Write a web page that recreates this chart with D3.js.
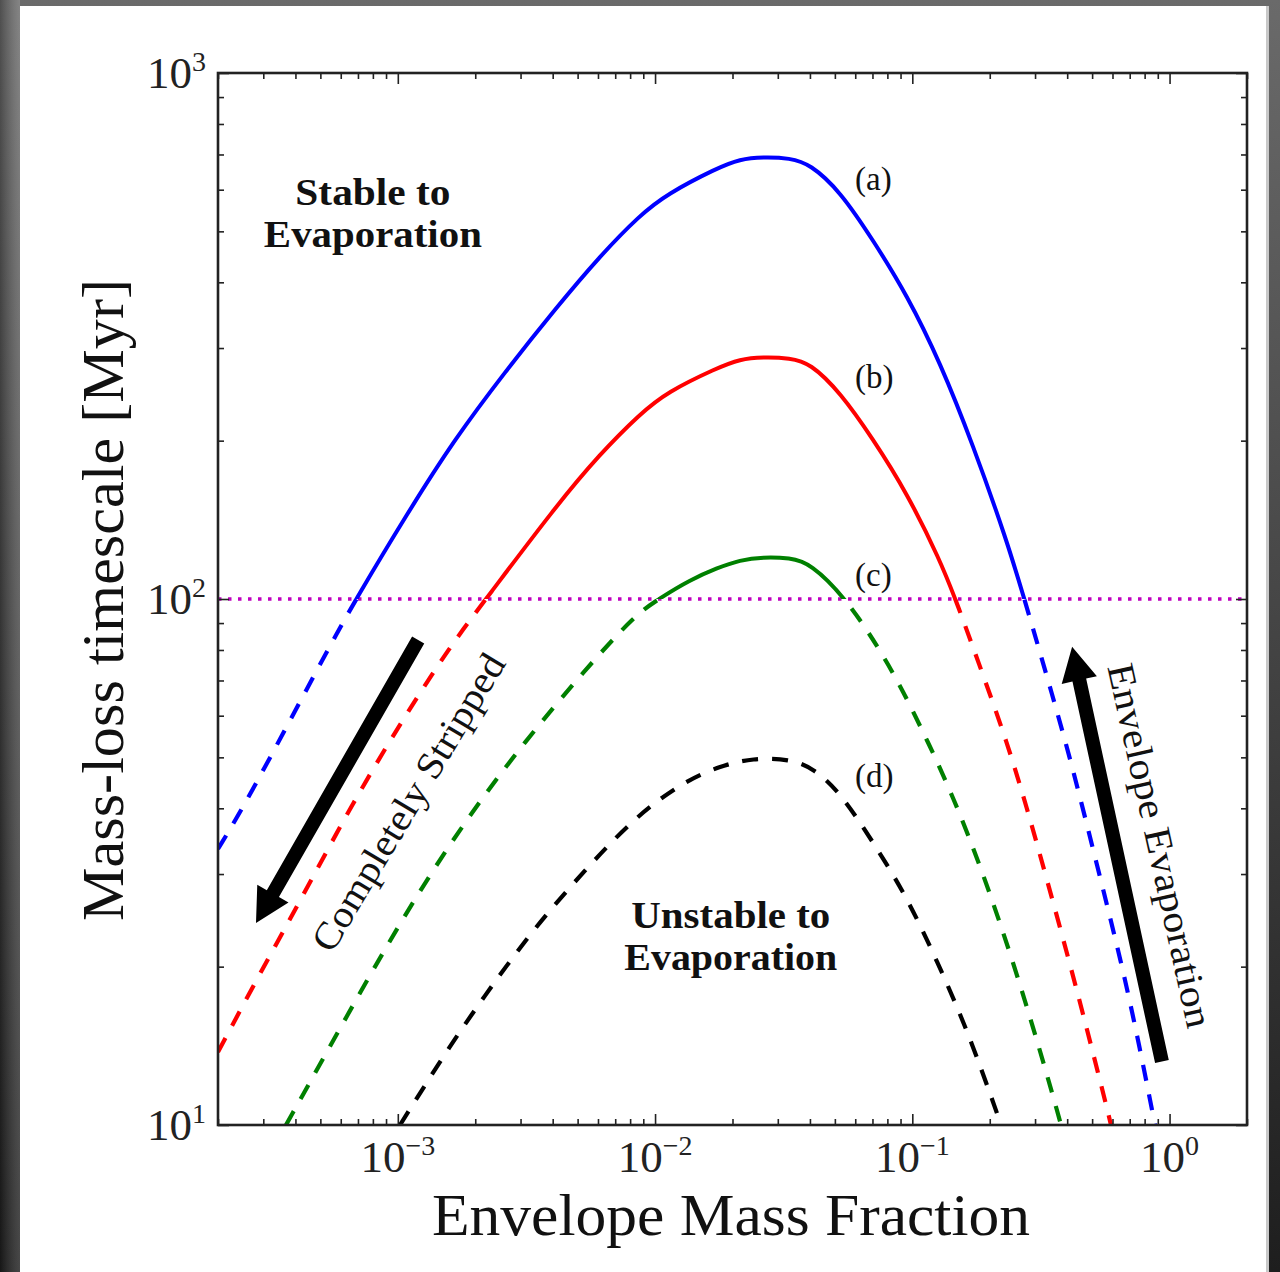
<!DOCTYPE html>
<html>
<head>
<meta charset="utf-8">
<script src="https://cdn.jsdelivr.net/npm/d3@7"></script>
<style>
    body { margin: 0; background: #fff; }
    svg { display: block; }
</style>
</head>
<body>
<svg id="chart"></svg>
<script>
// Envelope mass fraction vs mass-loss timescale [Myr]
const curveA = [
    [2.000e-4, 33.47], [2.457e-4, 39.54], [3.214e-4, 50.29], [4.202e-4, 64.27], [5.499e-4, 82.12],
    [6.877e-4, 100], [1.0857e-3, 145.1], [1.654e-3, 200.6], [2.610e-3, 270.2], [4.118e-3, 357.4],
    [6.108e-3, 448.9], [8.736e-3, 537.0], [1.1126e-2, 588.8], [1.740e-2, 659.6], [2.139e-2, 686.2],
    [2.628e-2, 692.3], [3.346e-2, 689.2], [4.002e-2, 671.4], [5.234e-2, 596.6], [7.033e-2, 481.4],
    [9.535e-2, 378.4], [0.1281, 282.2], [0.1722, 196.3], [0.2334, 128.9], [0.2742, 99.1],
    [0.3522, 65.12], [0.4213, 47.52], [0.5223, 31.21], [0.6592, 19.80], [0.7676, 13.95], [0.8778, 10]
];
const curveB = [
    [2.000e-4, 13.76], [2.861e-4, 19.11], [4.356e-4, 27.73], [6.577e-4, 40.41], [1.0290e-3, 58.37],
    [1.609e-3, 81.76], [2.203e-3, 100], [4.118e-3, 150.2], [6.108e-3, 188.7], [8.736e-3, 224.8],
    [1.1126e-2, 247.4], [1.740e-2, 274.9], [2.139e-2, 285.9], [2.628e-2, 288.4], [3.346e-2, 287.2],
    [4.002e-2, 281.0], [5.234e-2, 247.4], [7.033e-2, 201.5], [9.535e-2, 159.0], [0.1281, 118.6],
    [0.1492, 98.3], [0.1883, 71.71], [0.2334, 53.47], [0.2791, 40.06], [0.3339, 29.23],
    [0.4102, 20.24], [0.4906, 14.44], [0.5711, 10.77], [0.5919, 10]
];
const curveC = [
    [3.675e-4, 10], [5.353e-4, 13.89], [7.866e-4, 19.45], [1.1984e-3, 27.61], [1.874e-3, 38.51],
    [3.123e-3, 53.70], [5.340e-3, 73.28], [8.356e-3, 93.24], [1.0452e-2, 100.4], [1.3671e-2, 108.7],
    [1.740e-2, 114.5], [2.139e-2, 118.6], [2.628e-2, 120.2], [3.346e-2, 119.7], [4.002e-2, 117.1],
    [5.573e-2, 100], [8.188e-2, 74.89], [0.1100, 56.10], [0.1439, 42.22], [0.1883, 30.14],
    [0.2462, 20.50], [0.3134, 13.89], [0.3751, 10.18], [0.3784, 10]
];
const curveD = [
    [1.0198e-3, 10], [1.609e-3, 14.26], [2.303e-3, 18.30], [3.415e-3, 23.79], [5.340e-3, 30.53],
    [8.356e-3, 38.51], [1.2842e-2, 44.88], [1.7878e-2, 48.14], [2.403e-2, 49.86], [3.346e-2, 49.64],
    [4.110e-2, 47.72], [5.234e-2, 42.96], [7.033e-2, 34.51], [9.535e-2, 27.13], [0.1247, 20.50],
    [0.1632, 15.22], [0.2134, 10.54], [0.2212, 10]
];

const seriesNames = ["(a)", "(b)", "(c)", "(d)"];
const seriesColors = ["#0000ff", "#ff0000", "#008000", "#000000"];
const labelPos = [[0.0599, 600], [0.0599, 252], [0.0599, 106], [0.0599, 44]];

const threshold = 100;

const xMajor = [1e-3, 1e-2, 1e-1, 1];
const xMajorExp = ["\u22123", "\u22122", "\u22121", "0"];
const yMajor = [10, 100, 1000];
const yMajorExp = ["1", "2", "3"];

const xLabel = "Envelope Mass Fraction";
const yLabel = "Mass-loss timescale [Myr]";

// arrows: [tail, tip] in data units
const strippedArrow = [[1.20e-3, 83.6], [2.81e-4, 24.2]];
const evapArrow = [[0.934, 13.2], [0.418, 81.1]];

const width = 1280;
const height = 1272;
const serif = "'Liberation Serif', 'DejaVu Serif', serif";

const svg = d3.select("#chart")
    .attr("width", width)
    .attr("height", height);

const x = d3.scaleLog().domain([2e-4, 2]).range([218, 1247]);
const y = d3.scaleLog().domain([10, 1000]).range([1125, 73]);

// outer frame
const defs = svg.append("defs");
const bg = defs.append("linearGradient").attr("id", "bg")
    .attr("x1", 0).attr("y1", 0).attr("x2", 0).attr("y2", 1);
bg.append("stop").attr("offset", "0%").attr("stop-color", "#6a6a6a");
bg.append("stop").attr("offset", "100%").attr("stop-color", "#1e1e1e");
const side = defs.append("linearGradient").attr("id", "side")
    .attr("x1", 0).attr("y1", 0).attr("x2", 1).attr("y2", 0);
side.append("stop").attr("offset", "0%").attr("stop-color", "#000").attr("stop-opacity", 0.25);
side.append("stop").attr("offset", "100%").attr("stop-color", "#fff").attr("stop-opacity", 0.18);

svg.append("rect").attr("width", width).attr("height", height).attr("fill", "url(#bg)");
svg.append("rect").attr("width", 20).attr("height", height).attr("fill", "url(#side)");
svg.append("rect").attr("x", 20).attr("y", 6).attr("width", 1248).attr("height", height - 6)
    .attr("fill", "#fff");
svg.append("rect").attr("x", 1266).attr("y", 6).attr("width", 3).attr("height", height - 6)
    .attr("fill", "#c8c8c8");

// clips: solid above threshold, dashed below
defs.append("clipPath").attr("id", "above")
    .append("rect")
    .attr("x", x.range()[0]).attr("y", y.range()[1])
    .attr("width", x.range()[1] - x.range()[0])
    .attr("height", y(threshold) - y.range()[1]);
defs.append("clipPath").attr("id", "below")
    .append("rect")
    .attr("x", x.range()[0]).attr("y", y(threshold))
    .attr("width", x.range()[1] - x.range()[0])
    .attr("height", y.range()[0] - y(threshold));

// threshold line
svg.append("line")
    .attr("x1", x.range()[0]).attr("x2", x.range()[1])
    .attr("y1", y(threshold)).attr("y2", y(threshold))
    .attr("stroke", "#bf00bf")
    .attr("stroke-width", 3.5)
    .attr("stroke-dasharray", "3.5,6.5");

// B-spline smooths out the reading noise of the traced points
const line = d3.line()
    .x(function(d) { return x(d[0]); })
    .y(function(d) { return y(d[1]); })
    .curve(d3.curveBasis);

const allCurves = [curveA, curveB, curveC, curveD];

allCurves.forEach(function(data, i) {
    svg.append("path")
        .datum(data)
        .attr("d", line)
        .attr("fill", "none")
        .attr("stroke", seriesColors[i])
        .attr("stroke-width", 4)
        .attr("clip-path", "url(#above)");

    svg.append("path")
        .datum(data)
        .attr("d", line)
        .attr("fill", "none")
        .attr("stroke", seriesColors[i])
        .attr("stroke-width", 4.2)
        .attr("stroke-dasharray", "16,14")
        .attr("clip-path", "url(#below)");

    svg.append("text")
        .attr("x", x(labelPos[i][0]))
        .attr("y", y(labelPos[i][1]))
        .attr("font-family", serif)
        .attr("font-size", 33)
        .attr("fill", "#111")
        .text(seriesNames[i]);
});

// ticks, all four sides, pointing in
const xMinor = x.ticks().filter(function(v) { return xMajor.indexOf(v) < 0; });
const yMinor = y.ticks().filter(function(v) { return yMajor.indexOf(v) < 0; });

function tickAxis(axis, values, size, tx, ty) {
    const g = svg.append("g")
        .attr("transform", "translate(" + tx + "," + ty + ")")
        .call(axis.tickValues(values).tickSize(size).tickFormat(""));
    g.select(".domain").remove();
    g.selectAll("line").attr("stroke", "#222").attr("stroke-width", 1.6);
}

tickAxis(d3.axisBottom(x), xMajor, -11, 0, y.range()[0]);
tickAxis(d3.axisBottom(x), xMinor, -6, 0, y.range()[0]);
tickAxis(d3.axisTop(x), xMajor, -11, 0, y.range()[1]);
tickAxis(d3.axisTop(x), xMinor, -6, 0, y.range()[1]);
tickAxis(d3.axisLeft(y), yMajor, -11, x.range()[0], 0);
tickAxis(d3.axisLeft(y), yMinor, -6, x.range()[0], 0);
tickAxis(d3.axisRight(y), yMajor, -11, x.range()[1], 0);
tickAxis(d3.axisRight(y), yMinor, -6, x.range()[1], 0);

svg.append("rect")
    .attr("x", x.range()[0]).attr("y", y.range()[1])
    .attr("width", x.range()[1] - x.range()[0])
    .attr("height", y.range()[0] - y.range()[1])
    .attr("fill", "none")
    .attr("stroke", "#222")
    .attr("stroke-width", 2.6);

// tick labels with superscript exponents
function powerLabel(t, exp) {
    t.append("tspan").text("10");
    t.append("tspan").attr("dy", -17).attr("font-size", 28).text(exp);
}

xMajor.forEach(function(v, i) {
    const t = svg.append("text")
        .attr("x", x(v))
        .attr("y", y.range()[0] + 47)
        .attr("text-anchor", "middle")
        .attr("font-family", serif)
        .attr("font-size", 45)
        .attr("fill", "#222");
    powerLabel(t, xMajorExp[i]);
});

yMajor.forEach(function(v, i) {
    const t = svg.append("text")
        .attr("x", x.range()[0] - 12)
        .attr("y", y(v) + 15)
        .attr("text-anchor", "end")
        .attr("font-family", serif)
        .attr("font-size", 45)
        .attr("fill", "#222");
    powerLabel(t, yMajorExp[i]);
});

// axis titles
svg.append("text")
    .attr("x", 731)
    .attr("y", 1235)
    .attr("text-anchor", "middle")
    .attr("font-family", serif)
    .attr("font-size", 60)
    .attr("textLength", 598)
    .attr("lengthAdjust", "spacingAndGlyphs")
    .attr("fill", "#111")
    .text(xLabel);

svg.append("text")
    .attr("transform", "translate(123,600) rotate(-90)")
    .attr("text-anchor", "middle")
    .attr("font-family", serif)
    .attr("font-size", 60)
    .attr("textLength", 642)
    .attr("lengthAdjust", "spacingAndGlyphs")
    .attr("fill", "#111")
    .text(yLabel);

// region notes
function regionNote(lines, lengths, px, py) {
    lines.forEach(function(s, i) {
        svg.append("text")
            .attr("x", x(px))
            .attr("y", y(py) + i * 42)
            .attr("text-anchor", "middle")
            .attr("font-family", serif)
            .attr("font-weight", "bold")
            .attr("font-size", 38)
            .attr("textLength", lengths[i])
            .attr("lengthAdjust", "spacingAndGlyphs")
            .attr("fill", "#111")
            .text(s);
    });
}

regionNote(["Stable to", "Evaporation"], [155, 218], 8.0e-4, 561);
regionNote(["Unstable to", "Evaporation"], [199, 213], 0.0197, 23.7);

// fat arrows
function fatArrow(ends) {
    const x0 = x(ends[0][0]), y0 = y(ends[0][1]);
    const x1 = x(ends[1][0]), y1 = y(ends[1][1]);
    const len = Math.hypot(x1 - x0, y1 - y0);
    const ux = (x1 - x0) / len, uy = (y1 - y0) / len;
    const nx = -uy, ny = ux;
    const shaft = 7, head = 18, headLen = 34;
    const bx = x1 - ux * headLen, by = y1 - uy * headLen;
    const pts = [
        [x0 + nx * shaft, y0 + ny * shaft],
        [bx + nx * shaft, by + ny * shaft],
        [bx + nx * head, by + ny * head],
        [x1, y1],
        [bx - nx * head, by - ny * head],
        [bx - nx * shaft, by - ny * shaft],
        [x0 - nx * shaft, y0 - ny * shaft]
    ];
    svg.append("path")
        .attr("d", "M" + pts.join("L") + "Z")
        .attr("fill", "#000");
}

fatArrow(strippedArrow);
fatArrow(evapArrow);

svg.append("text")
    .attr("transform", "translate(" + x(1.096e-3) + "," + y(41.1) + ") rotate(-59)")
    .attr("text-anchor", "middle")
    .attr("dominant-baseline", "central")
    .attr("font-family", serif)
    .attr("font-size", 38)
    .attr("textLength", 340)
    .attr("lengthAdjust", "spacingAndGlyphs")
    .attr("fill", "#111")
    .text("Completely Stripped");

svg.append("text")
    .attr("transform", "translate(" + x(0.92) + "," + y(34.0) + ") rotate(77.5)")
    .attr("text-anchor", "middle")
    .attr("dominant-baseline", "central")
    .attr("font-family", serif)
    .attr("font-size", 38)
    .attr("textLength", 372)
    .attr("lengthAdjust", "spacingAndGlyphs")
    .attr("fill", "#111")
    .text("Envelope Evaporation");
</script>
</body>
</html>
